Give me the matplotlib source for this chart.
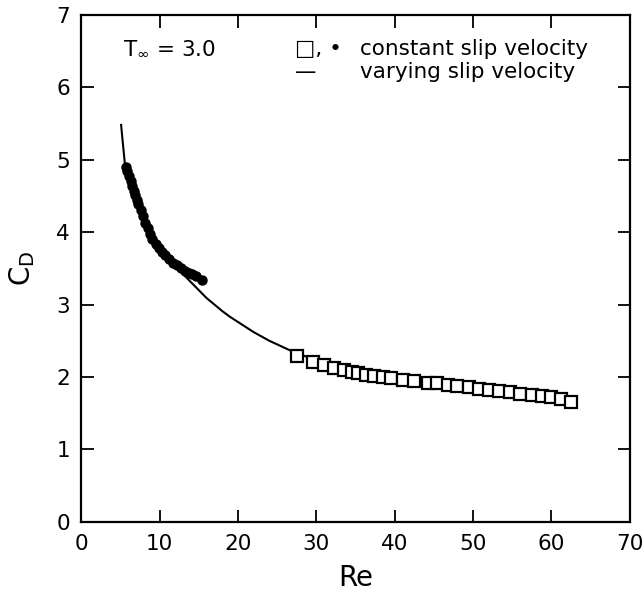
import matplotlib
matplotlib.use("Agg")
import matplotlib.pyplot as plt

plt.rcParams['font.family'] = ['DejaVu Sans']

# constant slip velocity, filled dots (low Re)
re_dots = [5.7, 5.9, 6.1, 6.3, 6.5, 6.7, 6.9, 7.1, 7.3, 7.6, 7.9, 8.2, 8.5, 8.8,
           9.1, 9.5, 9.9, 10.3, 10.7, 11.2, 11.7, 12.2, 12.7, 13.2, 13.7, 14.2, 14.7, 15.4]
cd_dots = [4.90, 4.85, 4.78, 4.71, 4.64, 4.57, 4.51, 4.45, 4.39, 4.31, 4.22, 4.13, 4.05, 3.98,
           3.91, 3.84, 3.78, 3.73, 3.68, 3.63, 3.58, 3.54, 3.50, 3.47, 3.44, 3.42, 3.39, 3.34]

# constant slip velocity, open squares (high Re)
re_sq = [27.6, 29.6, 31.0, 32.3, 33.5, 34.5, 35.3, 36.3, 37.3, 38.5, 39.5, 41.0, 42.5, 44.2,
         45.4, 46.8, 48.0, 49.5, 50.8, 52.0, 53.3, 54.7, 56.0, 57.5, 58.8, 60.0, 61.2, 62.5]
cd_sq = [2.29, 2.21, 2.16, 2.13, 2.10, 2.07, 2.05, 2.03, 2.01, 2.00, 1.98, 1.96, 1.94, 1.92,
         1.91, 1.89, 1.88, 1.86, 1.84, 1.82, 1.80, 1.79, 1.77, 1.75, 1.74, 1.72, 1.70, 1.66]

# varying slip velocity curve
re_curve = [5.1, 5.3, 5.6, 6.0, 6.5, 7.0, 8.0, 9.0, 10.0, 11.0, 12.0, 13.0, 14.0, 15.0, 16.0,
            17.0, 18.0, 19.0, 20.0, 21.0, 22.0, 23.0, 24.0, 25.0, 26.0, 27.0, 28.0, 30.0,
            32.0, 35.0, 38.0, 40.0, 45.0, 50.0, 55.0, 60.0, 63.0]
cd_curve = [5.48, 5.25, 4.92, 4.76, 4.60, 4.46, 4.19, 3.95, 3.78, 3.64, 3.53, 3.42, 3.31, 3.20,
            3.09, 3.00, 2.91, 2.83, 2.76, 2.69, 2.62, 2.56, 2.50, 2.45, 2.40, 2.35, 2.31, 2.23,
            2.16, 2.08, 2.01, 1.97, 1.90, 1.83, 1.77, 1.72, 1.68]

fig = plt.figure(figsize=(6.44, 5.93), dpi=100)
ax = fig.add_axes([0.126, 0.12, 0.852, 0.855])

ax.plot(re_curve, cd_curve, '-', color='black', lw=1.5)
ax.plot(re_dots, cd_dots, 'o', color='black', ms=6.5)
ax.plot(re_sq, cd_sq, 's', mfc='white', mec='black', mew=1.6, ms=8.5)

ax.set_xlim(0, 70)
ax.set_ylim(0, 7)
ax.set_xticks(range(0, 71, 10))
ax.set_yticks(range(0, 8))
ax.tick_params(direction='in', length=9, width=1.3, top=True, right=True,
               labelsize=15.5)
ax.tick_params(axis='x', pad=9)
ax.tick_params(axis='y', pad=8)
for s in ax.spines.values():
    s.set_linewidth(1.6)

ax.set_xlabel('Re', fontsize=20, labelpad=7)
ax.set_ylabel(r'$\mathregular{C_D}$', fontsize=20, labelpad=14)

ax.text(0.076, 0.933, r'$\mathregular{T_{\infty}}$ = 3.0', transform=ax.transAxes,
        fontsize=15.5, va='center')
ax.text(0.39, 0.933, '\u25a1, \u2022', transform=ax.transAxes, fontsize=15.5, va='center')
ax.text(0.508, 0.933, 'constant slip velocity', transform=ax.transAxes, fontsize=15.5,
        va='center')
ax.text(0.39, 0.888, '\u2014', transform=ax.transAxes, fontsize=15.5, va='center')
ax.text(0.508, 0.888, 'varying slip velocity', transform=ax.transAxes, fontsize=15.5,
        va='center')

fig.savefig('out.png', dpi=100)
